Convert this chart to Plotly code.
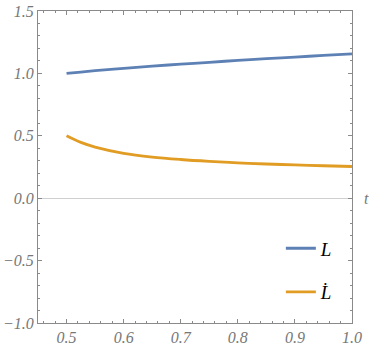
import plotly.graph_objects as go

# values
t = [0.5, 0.525, 0.55, 0.6, 0.65, 0.7, 0.75, 0.8, 0.85, 0.9, 0.95, 1.0]
L = [1.0, 1.011, 1.022, 1.041, 1.058, 1.074, 1.089, 1.104, 1.118, 1.131, 1.144, 1.157]
L_dot = [0.50, 0.447, 0.41, 0.36, 0.33, 0.31, 0.295, 0.283, 0.274, 0.267, 0.260, 0.254]

x_ticks = [0.5, 0.6, 0.7, 0.8, 0.9, 1.0]
y_ticks = [-1.0, -0.5, 0.0, 0.5, 1.0, 1.5]

BLUE = "#5E81B5"
ORANGE = "#E19C24"
GRAY = "#8a8a8a"
SERIF = "Liberation Serif, DejaVu Serif, serif"

fig = go.Figure()

fig.add_trace(go.Scatter(
    x=t, y=L, mode="lines", name="L", legendgroup="a",
    line=dict(color=BLUE, width=2.8, shape="spline")
))
fig.add_trace(go.Scatter(
    x=t, y=L_dot, mode="lines", name="L\u0307", legendgroup="b",
    line=dict(color=ORANGE, width=2.8, shape="spline")
))

axis_common = dict(
    showline=True, linecolor=GRAY, linewidth=1, mirror="allticks",
    ticks="inside", ticklen=4, tickcolor=GRAY, tickwidth=1,
    showgrid=False, automargin=False,
    tickfont=dict(family=SERIF, size=16, color="#777", style="italic"),
)

fig.update_xaxes(
    range=[0.45, 1.0], tickvals=x_ticks,
    ticktext=[f"{v:.1f}" for v in x_ticks],
    zeroline=False,
    minor=dict(dtick=0.02, tick0=0.0, ticks="inside", ticklen=2, tickcolor=GRAY),
    **axis_common
)
fig.update_yaxes(
    range=[-1.0, 1.5], tickvals=y_ticks,
    ticktext=["\u22121.0", "\u22120.5", "0.0", "0.5", "1.0", "1.5"],
    zeroline=True, zerolinecolor="#cfcfcf", zerolinewidth=1,
    minor=dict(dtick=0.1, tick0=0.0, ticks="inside", ticklen=2, tickcolor=GRAY),
    **axis_common
)

fig.add_annotation(
    x=1.0, y=0.0, xref="paper", yref="y", text="t", showarrow=False,
    xanchor="left", xshift=10, font=dict(family=SERIF, size=16, color="#777", style="italic")
)

fig.update_layout(
    width=374, height=356,
    margin=dict(l=38, r=22, t=11, b=33),
    paper_bgcolor="white", plot_bgcolor="white",
    legend=dict(
        x=0.955, y=0.3, xanchor="right", yanchor="top",
        bgcolor="rgba(0,0,0,0)", tracegroupgap=16,
        font=dict(family=SERIF, size=19, color="black", style="italic"),
    ),
)

fig.write_html("out.html", config={"displayModeBar": False},
               post_script="document.body.style.margin = '0';")
